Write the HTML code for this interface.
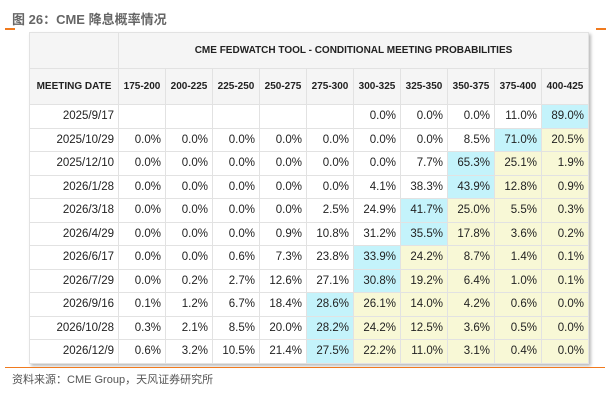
<!DOCTYPE html>
<html><head><meta charset="utf-8"><style>
body{margin:0;width:610px;height:403px;background:#fff;font-family:"Liberation Sans","Noto Sans CJK SC",sans-serif;position:relative;overflow:hidden}
.title{position:absolute;left:12px;top:9px;font-size:13px;color:#666;font-weight:bold}
.om{position:absolute;top:28px;height:2px;width:10px;background:#f07a1e}
table{position:absolute;left:29px;top:32px;border-collapse:collapse;box-shadow:2px 2px 3px #bbb;table-layout:fixed}
td{border:1px solid #e2e2e2;font-size:11.5px;color:#222;text-align:right;padding:0 4px 0 0;height:22.5px;white-space:nowrap}
td.h{background:#f5f5f5;font-weight:bold;font-size:10px;text-align:center;padding:0;height:35px}
td.c{background:#c4f3fb}td.y{background:#f8f8d6}
.line{position:absolute;left:5px;top:367px;width:600px;height:1px;background:#f07a1e}
.src{position:absolute;left:12px;top:371px;font-size:11px;color:#555}
</style></head><body>
<div class="title">图 26：CME 降息概率情况</div>
<div class="om" style="left:5px"></div>
<div class="om" style="left:596px"></div>
<table id="t"></table>
<div class="line"></div>
<div class="src">资料来源：CME Group，天风证券研究所</div>
<script>
const dates=["2025/9/17","2025/10/29","2025/12/10","2026/1/28","2026/3/18","2026/4/29","2026/6/17","2026/7/29","2026/9/16","2026/10/28","2026/12/9"];
const ranges=["175-200","200-225","225-250","250-275","275-300","300-325","325-350","350-375","375-400","400-425"];
const values=[
[null,null,null,null,null,0.0,0.0,0.0,11.0,89.0],
[0.0,0.0,0.0,0.0,0.0,0.0,0.0,8.5,71.0,20.5],
[0.0,0.0,0.0,0.0,0.0,0.0,7.7,65.3,25.1,1.9],
[0.0,0.0,0.0,0.0,0.0,4.1,38.3,43.9,12.8,0.9],
[0.0,0.0,0.0,0.0,2.5,24.9,41.7,25.0,5.5,0.3],
[0.0,0.0,0.0,0.9,10.8,31.2,35.5,17.8,3.6,0.2],
[0.0,0.0,0.6,7.3,23.8,33.9,24.2,8.7,1.4,0.1],
[0.0,0.2,2.7,12.6,27.1,30.8,19.2,6.4,1.0,0.1],
[0.1,1.2,6.7,18.4,28.6,26.1,14.0,4.2,0.6,0.0],
[0.3,2.1,8.5,20.0,28.2,24.2,12.5,3.6,0.5,0.0],
[0.6,3.2,10.5,21.4,27.5,22.2,11.0,3.1,0.4,0.0]];
const t=document.getElementById('t');
let cg='<colgroup><col style="width:89px">'+ranges.map(()=>'<col style="width:47px">').join('')+'</colgroup>';
let h='<tr><td class="h"></td><td class="h" colspan="10">CME FEDWATCH TOOL - CONDITIONAL MEETING PROBABILITIES</td></tr>';
h+='<tr><td class="h">MEETING DATE</td>'+ranges.map(r=>'<td class="h">'+r+'</td>').join('')+'</tr>';
dates.forEach((d,i)=>{
  const row=values[i];let mx=0;
  row.forEach((v,j)=>{if(v!==null&&(row[mx]===null||v>row[mx]))mx=j;});
  h+='<tr><td>'+d+'</td>';
  row.forEach((v,j)=>{
    const cls=j===mx?'c':(j>mx?'y':'');
    h+='<td class="'+cls+'">'+(v===null?'':v.toFixed(1)+'%')+'</td>';
  });
  h+='</tr>';
});
t.innerHTML=cg+h;
</script>
</body></html>
